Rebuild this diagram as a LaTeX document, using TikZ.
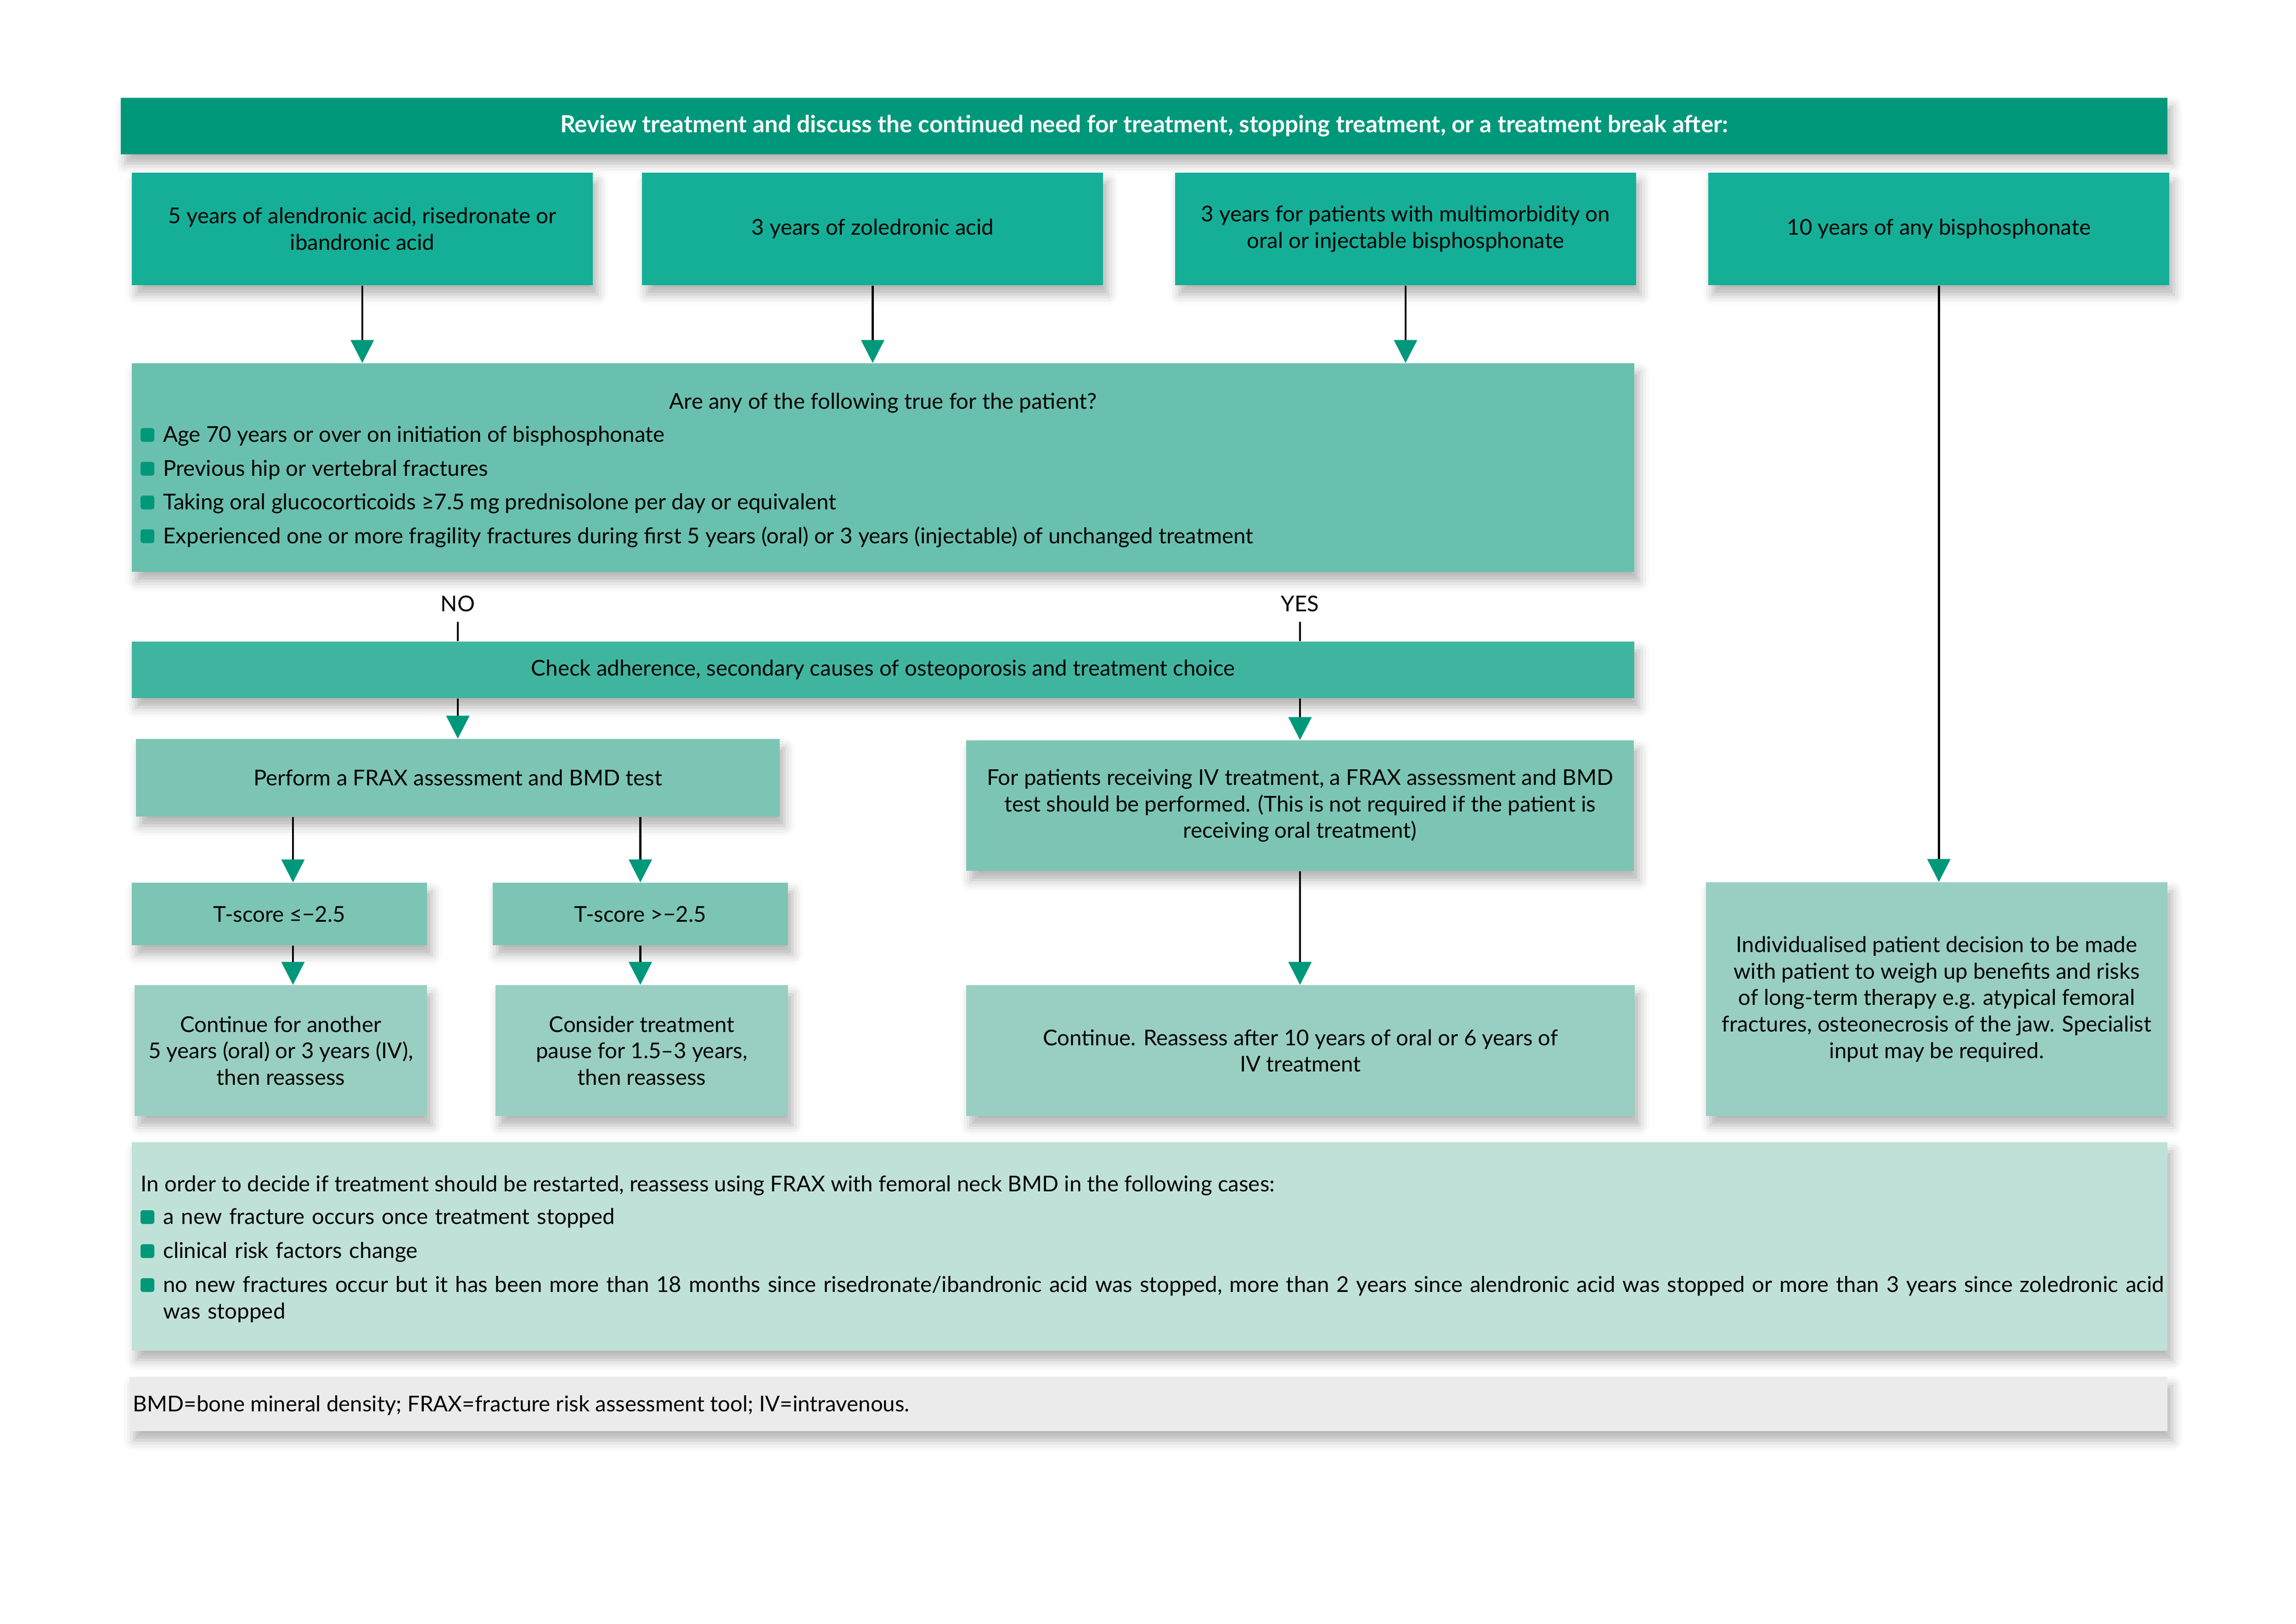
\documentclass[tikz,border=0pt]{standalone}
\usepackage{fontspec}
\setmainfont{Lato}
\usetikzlibrary{positioning,arrows.meta,shadows.blur}

\definecolor{tealdark}{HTML}{00987A}
\definecolor{tealmid}{HTML}{15AF98}
\definecolor{tealask}{HTML}{69C0AE}
\definecolor{tealcheck}{HTML}{3FB5A0}
\definecolor{teallight}{HTML}{7CC5B4}
\definecolor{tealpale}{HTML}{99CFC2}
\definecolor{tealfaint}{HTML}{C0E1D8}
\definecolor{legendgray}{HTML}{EBEBEB}

\newcommand{\boxfont}{\fontsize{13.5}{16.4}\selectfont}
\newcommand{\headfont}{\fontsize{14.6}{16.4}\selectfont\bfseries}

\begin{document}
\begin{tikzpicture}[
    node distance=1cm,
    box/.style={rectangle, inner sep=0pt, align=center, font=\boxfont,
        blur shadow={shadow xshift=0.1cm, shadow yshift=-0.2cm, shadow blur radius=0.22cm, shadow opacity=30}},
    header/.style={box, fill=tealdark, text=white, font=\headfont, minimum width=44.57cm, minimum height=1.23cm},
    period/.style={box, fill=tealmid, minimum width=10.04cm, minimum height=2.45cm},
    askbox/.style={box, fill=tealask},
    checkbar/.style={box, fill=tealcheck},
    assess/.style={box, fill=teallight},
    outcome/.style={box, fill=tealpale},
    notebox/.style={box, fill=tealfaint},
    legendbar/.style={box, fill=legendgray},
    bullet/.style={rectangle, fill=tealdark, rounded corners=0.05cm, minimum width=0.3cm, minimum height=0.3cm, inner sep=0pt},
    entry/.style={inner sep=0pt, font=\boxfont},
    answer/.style={inner sep=0pt, outer ysep=0.23cm, font=\boxfont, anchor=base},
    arrow/.style={-{Triangle[width=0.5cm, length=0.5cm, color=tealdark]}, line width=1.3pt},
    stub/.style={line width=1.3pt}
]
\useasboundingbox (0,0) rectangle (50,-35.35);

% Header
\node[header] (review) at (24.915,-2.745) {Review treatment and discuss the continued need for treatment, stopping treatment, or a treatment break after:};

% Treatment periods
\node[period] (alen) at (7.89,-4.985) {5 years of alendronic acid, risedronate or\\ibandronic acid};
\node[period, right=1.06cm of alen] (zol) {3 years of zoledronic acid};
\node[period, right=1.55cm of zol] (multi) {3 years for patients with multimorbidity on\\oral or injectable bisphosphonate};
\node[period, right=1.56cm of multi] (tenyr) {10 years of any bisphosphonate};

% Question with risk factors
\node[askbox, minimum width=32.72cm, minimum height=4.54cm] (ask) at (19.23,-10.18) {};
\node[entry, anchor=base] (askq) at (19.23,-8.90) {Are any of the following true for the patient?};
\foreach \txt [count=\i] in {Age 70 years or over on initiation of bisphosphonate,
    Previous hip or vertebral fractures,
    Taking oral glucocorticoids ≥7.5 mg prednisolone per day or equivalent,
    Experienced one or more fragility fractures during first 5 years (oral) or 3 years (injectable) of unchanged treatment} {
    \node[bullet] (askb\i) at (3.21,{-9.47-0.735*(\i-1)}) {};
    \node[entry, anchor=base west] (askt\i) at ([xshift=0.18cm]askb\i.south east) {\txt};
}

% Answers
\node[answer] (no) at (9.97,-13.31) {NO};
\node[answer] (yes) at (28.31,-13.31) {YES};
\node[checkbar, minimum width=32.72cm, minimum height=1.23cm] (check) at (19.23,-14.585) {Check adherence, secondary causes of osteoporosis and treatment choice};

% Assessment
\node[assess, minimum width=14.02cm, minimum height=1.69cm] (frax) at (9.97,-16.935) {Perform a FRAX assessment and BMD test};
\node[assess, minimum width=14.54cm, minimum height=2.84cm] (ivtest) at (28.31,-17.54) {For patients receiving IV treatment, a FRAX assessment and BMD\\test should be performed. (This is not required if the patient is\\receiving oral treatment)};
\node[assess, minimum width=6.43cm, minimum height=1.36cm] (tlow) at (6.085,-19.90) {T-score ≤−2.5};
\node[assess, minimum width=6.43cm, minimum height=1.36cm] (thigh) at (13.945,-19.90) {T-score >−2.5};

% Outcomes
\node[outcome, minimum width=6.37cm, minimum height=2.85cm] (contlow) at (6.115,-22.875) {Continue for another\\5 years (oral) or 3 years (IV),\\then reassess};
\node[outcome, minimum width=6.37cm, minimum height=2.85cm] (pause) at (13.975,-22.875) {Consider treatment\\pause for 1.5–3 years,\\then reassess};
\node[outcome, minimum width=14.56cm, minimum height=2.85cm] (contiv) at (28.32,-22.875) {Continue. Reassess after 10 years of oral or 6 years of\\IV treatment};
\node[outcome, minimum width=10.05cm, minimum height=5.09cm] (indiv) at (42.175,-21.755) {Individualised patient decision to be made\\with patient to weigh up benefits and risks\\of long-term therapy e.g. atypical femoral\\fractures, osteonecrosis of the jaw. Specialist\\input may be required.};

% Restart note
\node[notebox, minimum width=44.33cm, minimum height=4.54cm] (restart) at (25.035,-27.14) {};
\node[entry, anchor=base west] (restartq) at (3.06,-25.94) {In order to decide if treatment should be restarted, reassess using FRAX with femoral neck BMD in the following cases:};
\foreach \txt [count=\i] in {a new fracture occurs once treatment stopped,
    clinical risk factors change,
    {no new fractures occur but it has been more than 18 months since risedronate/ibandronic acid was stopped, more than 2 years since alendronic acid was stopped or more than 3 years since zoledronic acid\\was stopped}} {
    \node[bullet] (restb\i) at (3.21,{-26.50-0.74*(\i-1)}) {};
    \node[entry, anchor=base west, text width=44.5cm, align=left] (restt\i) at ([xshift=0.18cm]restb\i.south east) {\txt};
}

% Legend
\node[legendbar, minimum width=44.38cm, minimum height=1.18cm] (legend) at (25.01,-30.57) {};
\node[entry, anchor=west] (legendt) at (2.89,-30.60) {BMD=bone mineral density; FRAX=fracture risk assessment tool; IV=intravenous.};

% Connectors
\foreach \src in {alen, zol, multi}
    \draw[arrow] (\src.south) -- (\src.south |- ask.north);
\draw[arrow] (tenyr.south) -- (tenyr.south |- indiv.north);
\draw[stub] (no.south) -- (no.south |- check.north);
\draw[stub] (yes.south) -- (yes.south |- check.north);
\draw[arrow] (check.south -| frax.north) -- (frax.north);
\draw[arrow] (check.south -| ivtest.north) -- (ivtest.north);
\coordinate (lowcol) at (6.38,-19);
\draw[arrow] (frax.south -| lowcol) -- (tlow.north -| lowcol);
\draw[arrow] (tlow.south -| lowcol) -- (contlow.north -| lowcol);
\draw[arrow] (frax.south -| thigh.north) -- (thigh.north);
\draw[arrow] (thigh.south) -- (thigh.south |- pause.north);
\draw[arrow] (ivtest.south) -- (ivtest.south |- contiv.north);
\end{tikzpicture}
\end{document}
